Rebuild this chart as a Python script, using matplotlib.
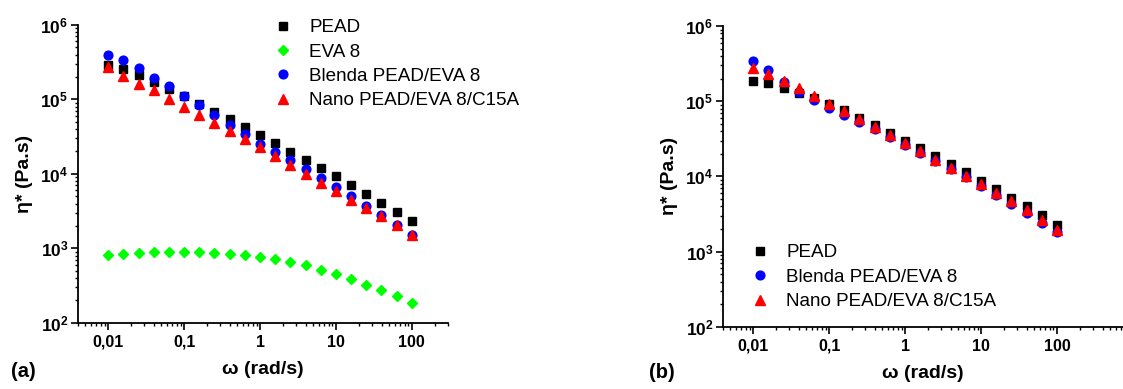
import math
import matplotlib
matplotlib.use("Agg")
import matplotlib.pyplot as plt
from matplotlib.ticker import LogLocator, FixedLocator, FixedFormatter, FuncFormatter, NullFormatter

plt.rcParams['font.family'] = ['Liberation Sans', 'DejaVu Sans']
plt.rcParams['mathtext.fontset'] = 'custom'
plt.rcParams['mathtext.rm'] = 'Liberation Sans:bold'
plt.rcParams['mathtext.bf'] = 'Liberation Sans:bold'

# frequency (rad/s), 5 points per decade
omega = [0.01, 0.0158, 0.0251, 0.0398, 0.0631, 0.1, 0.158, 0.251, 0.398, 0.631,
         1.0, 1.58, 2.51, 3.98, 6.31, 10.0, 15.8, 25.1, 39.8, 63.1, 100.0]

# panel (a)
pead_a = [2.9e5, 2.55e5, 2.1e5, 1.7e5, 1.37e5, 1.1e5, 8.6e4, 6.8e4, 5.4e4, 4.2e4,
          3.3e4, 2.56e4, 1.98e4, 1.55e4, 1.2e4, 9.25e3, 7.1e3, 5.4e3, 4.1e3, 3.1e3, 2.3e3]
eva_a = [824, 851, 877, 896, 904, 904, 896, 877, 851, 817,
         775, 721, 658, 593, 519, 454, 385, 326, 274, 228, 185]
blenda_a = [4.0e5, 3.36e5, 2.6e5, 1.95e5, 1.49e5, 1.11e5, 8.3e4, 6.1e4, 4.47e4, 3.39e4,
            2.51e4, 1.94e4, 1.52e4, 1.15e4, 8.7e3, 6.66e3, 4.99e3, 3.74e3, 2.8e3, 2.08e3, 1.53e3]
nano_a = [2.76e5, 2.03e5, 1.62e5, 1.32e5, 1.02e5, 7.96e4, 6.15e4, 4.81e4, 3.72e4, 2.9e4,
          2.27e4, 1.73e4, 1.31e4, 9.84e3, 7.6e3, 5.9e3, 4.5e3, 3.45e3, 2.69e3, 2.04e3, 1.5e3]

# panel (b)
pead_b = [1.84e5, 1.73e5, 1.5e5, 1.29e5, 1.1e5, 9.3e4, 7.57e4, 6.05e4, 4.79e4, 3.83e4,
          2.99e4, 2.37e4, 1.85e4, 1.45e4, 1.14e4, 8.8e3, 6.8e3, 5.24e3, 4.0e3, 3.05e3, 2.27e3]
blenda_b = [3.46e5, 2.58e5, 1.82e5, 1.31e5, 1.03e5, 8.2e4, 6.6e4, 5.3e4, 4.24e4, 3.38e4,
            2.65e4, 2.07e4, 1.62e4, 1.27e4, 9.75e3, 7.48e3, 5.74e3, 4.31e3, 3.24e3, 2.43e3, 1.81e3]
nano_b = [2.74e5, 2.28e5, 1.88e5, 1.5e5, 1.19e5, 9.3e4, 7.4e4, 5.87e4, 4.6e4, 3.6e4,
          2.76e4, 2.16e4, 1.67e4, 1.31e4, 1.02e4, 7.87e3, 6.04e3, 4.68e3, 3.59e3, 2.67e3, 1.95e3]

xticks = [0.01, 0.1, 1, 10, 100]
xticklabels = ['0,01', '0,1', '1', '10', '100']

fig = plt.figure(figsize=(11.23, 3.89), dpi=100)
ax1 = fig.add_axes([0.0695, 0.170, 0.3295, 0.766])
ax2 = fig.add_axes([0.6438, 0.160, 0.3562, 0.773])


def style(ax, xmax):
    ax.set_xscale('log')
    ax.set_yscale('log')
    ax.set_xlim(0.004, xmax)
    ax.set_ylim(1e2, 1e6)
    ax.spines['top'].set_visible(False)
    ax.spines['right'].set_visible(False)
    for s in ['left', 'bottom']:
        ax.spines[s].set_linewidth(1.3)
    ax.xaxis.set_major_locator(FixedLocator(xticks))
    ax.xaxis.set_major_formatter(FixedFormatter(xticklabels))
    ax.xaxis.set_minor_locator(LogLocator(base=10, subs=range(2, 10), numticks=20))
    ax.xaxis.set_minor_formatter(NullFormatter())
    ax.yaxis.set_major_locator(FixedLocator([1e2, 1e3, 1e4, 1e5, 1e6]))
    ax.yaxis.set_major_formatter(FuncFormatter(lambda v, p: r'$\mathbf{10^{%d}}$' % round(math.log10(v))))
    ax.yaxis.set_minor_locator(LogLocator(base=10, subs=range(2, 10), numticks=20))
    ax.yaxis.set_minor_formatter(NullFormatter())
    ax.tick_params(which='major', direction='out', length=5, width=1.2, labelsize=11.5)
    ax.tick_params(axis='y', which='major', labelsize=12.5, pad=2)
    ax.tick_params(which='minor', direction='out', length=2.5, width=1.0)
    for lab in ax.get_xticklabels():
        lab.set_fontweight('bold')
    ax.set_xlabel('ω (rad/s)', fontsize=14, fontweight='bold', labelpad=8)
    ax.set_ylabel('η* (Pa.s)', fontsize=14, fontweight='bold', labelpad=5)


ax1.plot(omega, pead_a, 's', color='black', ms=5.5, label='PEAD')
ax1.plot(omega, eva_a, 'D', color='#00ff00', ms=5.2, label='EVA 8')
ax1.plot(omega, blenda_a, 'o', color='#0000ff', ms=6.3, label='Blenda PEAD/EVA 8')
ax1.plot(omega, nano_a, '^', color='#ff0000', ms=6.8, label='Nano PEAD/EVA 8/C15A')
style(ax1, 300)
ax1.legend(loc='upper left', bbox_to_anchor=(0.508, 1.045), frameon=False, fontsize=13.6,
           handlelength=1, handletextpad=0.9, labelspacing=0.38, numpoints=1, borderaxespad=0)

ax2.plot(omega, pead_b, 's', color='black', ms=5.5, label='PEAD')
ax2.plot(omega, blenda_b, 'o', color='#0000ff', ms=6.3, label='Blenda PEAD/EVA 8')
ax2.plot(omega, nano_b, '^', color='#ff0000', ms=6.8, label='Nano PEAD/EVA 8/C15A')
style(ax2, 742)
ax2.legend(loc='upper left', bbox_to_anchor=(0.05, 0.30), frameon=False, fontsize=13.6,
           handlelength=1, handletextpad=0.9, labelspacing=0.38, numpoints=1, borderaxespad=0)

fig.text(0.010, 0.030, '(a)', fontsize=14.5, fontweight='bold')
fig.text(0.578, 0.028, '(b)', fontsize=14.5, fontweight='bold')

fig.savefig('out.png', dpi=100)
